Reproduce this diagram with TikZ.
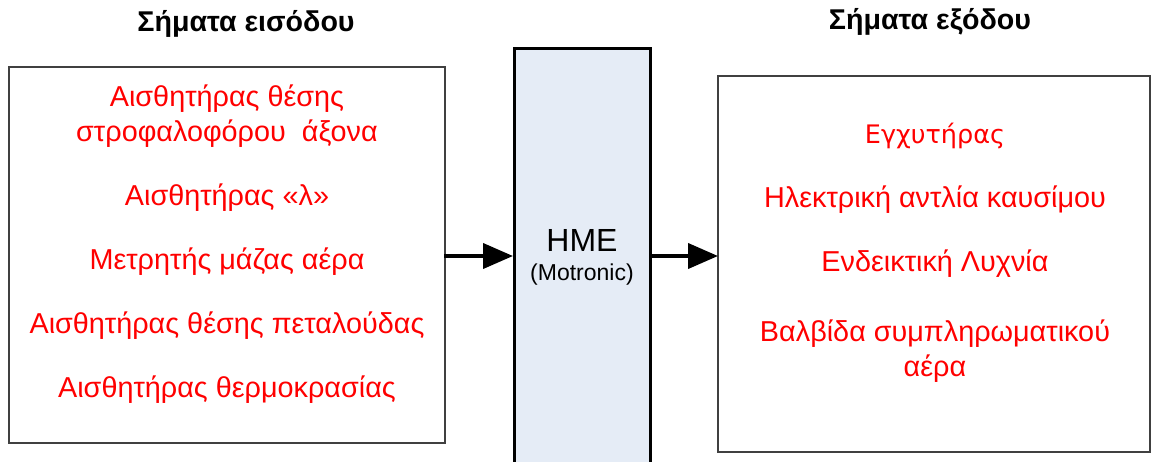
\documentclass[tikz,border=0pt]{standalone}
\usepackage{fontspec}
\setmainfont{Liberation Sans}
\newfontfamily\altfont{DejaVu Sans}
\usetikzlibrary{arrows.meta}
\definecolor{hmefill}{RGB}{229,236,246}
\definecolor{txtred}{RGB}{255,0,0}
\begin{document}
\begin{tikzpicture}[x=1pt,y=-1pt,
  sigbox/.style={draw=black!75,line width=1.3pt},
  item/.style={text=txtred,font=\fontsize{28.8}{34.5}\selectfont,inner sep=0pt,align=center},
  title/.style={font=\fontsize{28.6}{32}\selectfont\bfseries,inner sep=0pt},
  sigarrow/.style={line width=4pt,-{Triangle[length=30pt,width=25pt]}}]
\useasboundingbox (0,0) rectangle (1152,461);
% boxes
\draw[sigbox] (9,67) rectangle (445,443);
\draw[sigbox] (718,76) rectangle (1150,452);
\fill[hmefill] (514,48) rectangle (650,470);
\draw[black,line width=3pt] (514,470) -- (514,48) -- (650,48) -- (650,470);
% named anchors for arrows
\coordinate (inL) at (444,256);
\coordinate (inR) at (513,256);
\coordinate (outL) at (650,256);
\coordinate (outR) at (718,256);
\draw[sigarrow] (inL) -- (inR);
\draw[sigarrow] (outL) -- (outR);
% titles
\node[title] (tin) at (246,24) {Σήματα εισόδου};
\node[title] (tout) at (930,22) {Σήματα εξόδου};
% input items
\node[item] (i1) at (227,116) {Αισθητήρας θέσης\\στροφαλοφόρου\ \ άξονα};
\node[item] (i2) at (227,198) {Αισθητήρας «λ»};
\node[item] (i3) at (227,262) {Μετρητής μάζας αέρα};
\node[item] (i4) at (227,326) {Αισθητήρας θέσης πεταλούδας};
\node[item] (i5) at (227,390) {Αισθητήρας θερμοκρασίας};
% output items
\node[item,font=\altfont\fontsize{25.5}{30}\selectfont] (o1) at (935,136) {Εγχυτήρας};
\node[item] (o2) at (935,200) {Ηλεκτρική αντλία καυσίμου};
\node[item] (o3) at (935,264) {Ενδεικτική Λυχνία};
\node[item] (o4) at (935,351) {Βαλβίδα συμπληρωματικού\\αέρα};
% HME
\node[inner sep=0pt,font=\fontsize{32}{36}\selectfont] (hme) at (582,240) {HME};
\node[inner sep=0pt,font=\fontsize{23}{26}\selectfont] (mot) at (582,275) {(Motronic)};
\end{tikzpicture}
\end{document}
